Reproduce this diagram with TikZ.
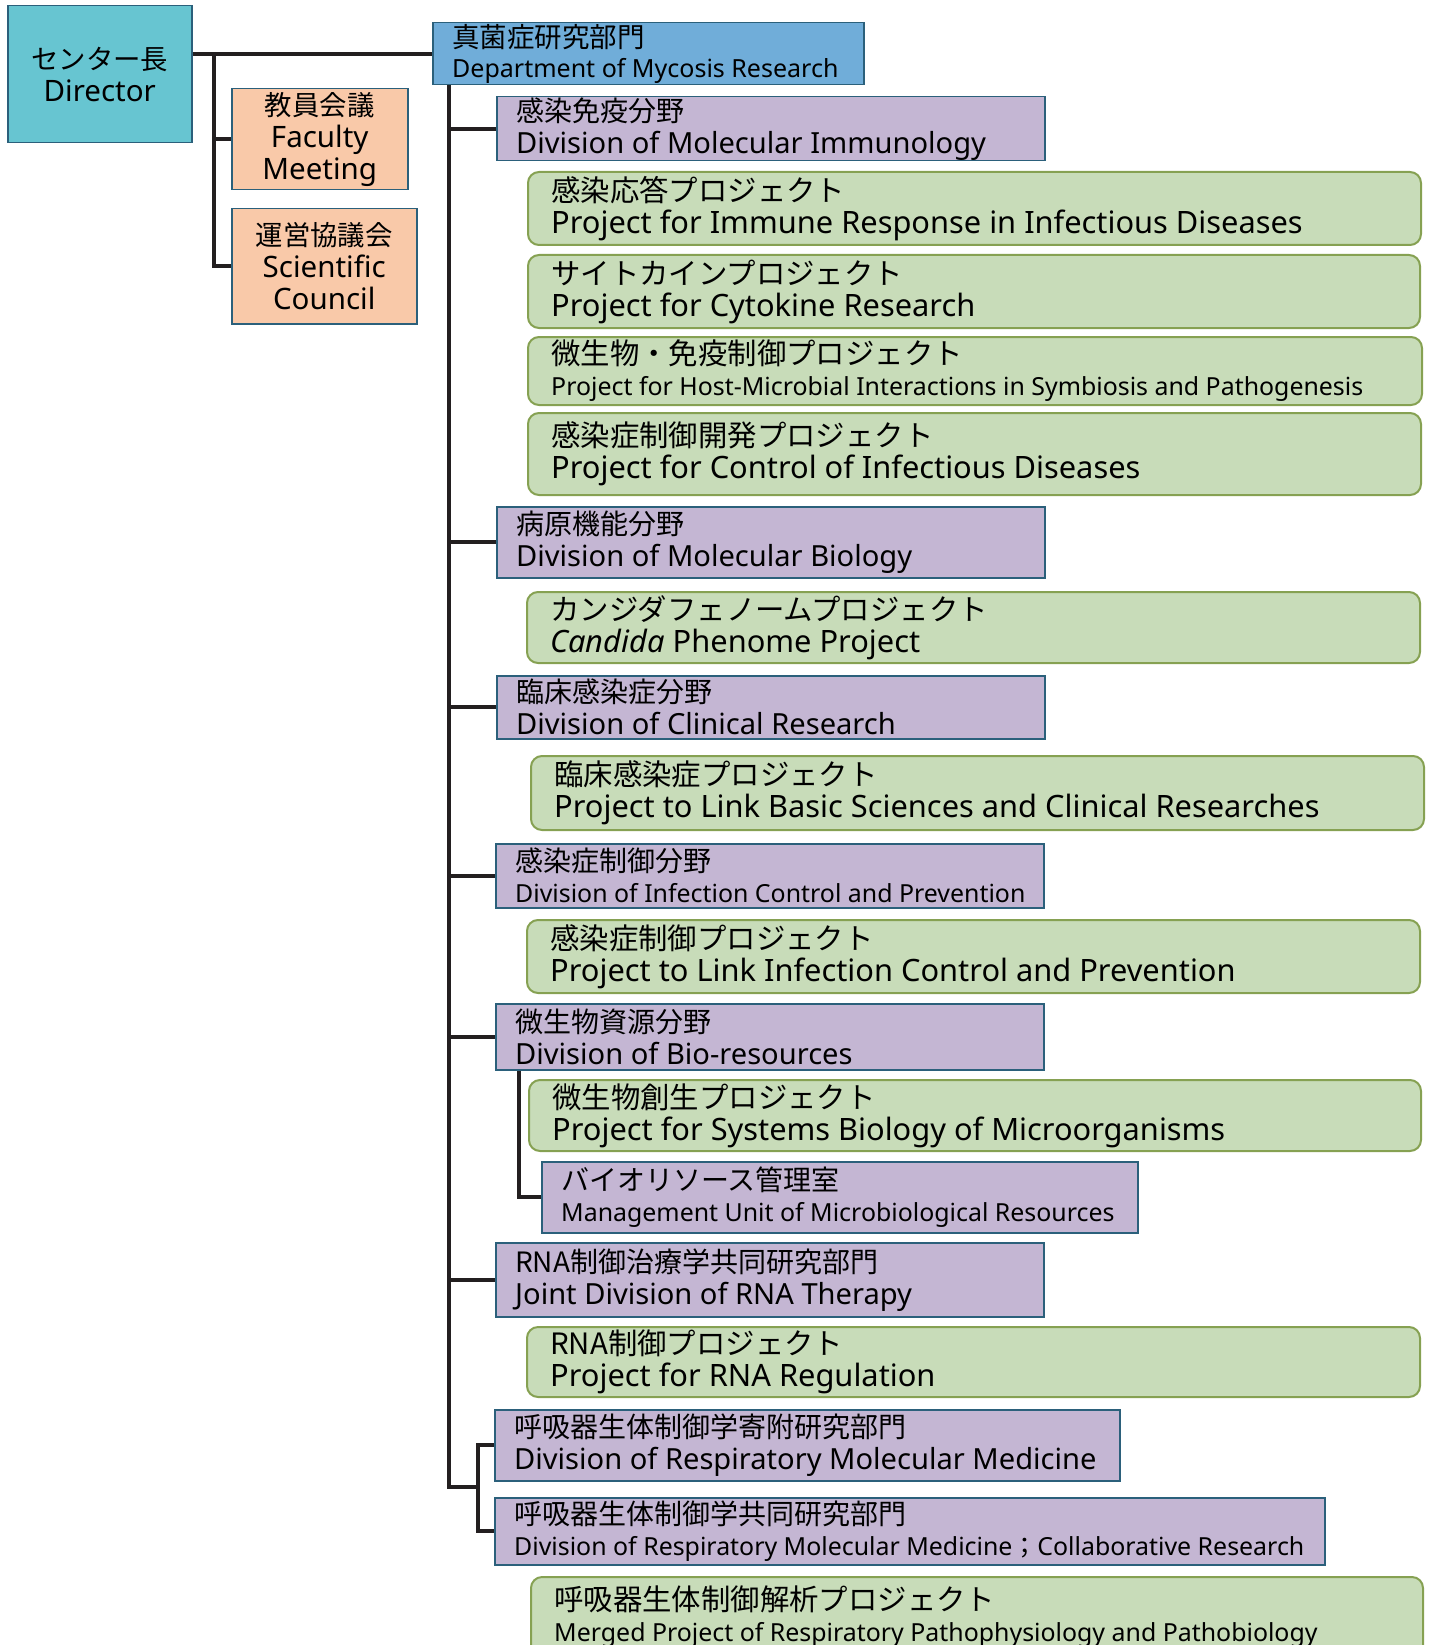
\documentclass[tikz,border=0pt]{standalone}
\usepackage{fontspec}
\setmainfont{Noto Sans}
\newfontfamily\jpf{Noto Sans CJK JP}
\def\jpsz{28}
\newcommand\J[1]{{\fontsize{\jpsz}{32}\selectfont\jpf #1}}
\newcommand\Es[1]{{\fontsize{24.9}{31}\selectfont #1}}
\newcommand\Em[1]{{\fontsize{25}{30}\selectfont #1}}
\definecolor{dirfill}{HTML}{67C5D1}
\definecolor{depfill}{HTML}{70ADD9}
\definecolor{facfill}{HTML}{F9C9A9}
\definecolor{divfill}{HTML}{C4B6D3}
\definecolor{prjfill}{HTML}{C8DCB9}
\definecolor{bluedraw}{HTML}{2B607B}
\definecolor{prjdraw}{HTML}{86A152}
\definecolor{linecol}{HTML}{231F20}
\tikzset{
  cbox/.style={anchor=north west, draw=bluedraw, line width=1.5pt, align=center, inner sep=0pt, font={\def\jpsz{27.4}\fontsize{29.5}{32}\selectfont}},
  dbox/.style={anchor=north west, draw=bluedraw, fill=divfill, line width=1.5pt, inner sep=0pt},
  depbox/.style={dbox, fill=depfill},
  pbox/.style={anchor=north west, draw=prjdraw, fill=prjfill, line width=2pt, rounded corners=11pt, inner sep=0pt},
  dtext/.style={anchor=west, xshift=20pt, align=left, inner sep=0pt, font={\def\jpsz{28}\fontsize{29.1}{32}\selectfont}},
  dstext/.style={dtext, font={\def\jpsz{28}\fontsize{29.1}{31}\selectfont}},
  deptext/.style={dtext, font={\def\jpsz{27.5}\fontsize{28}{30}\selectfont}},
  ptext/.style={anchor=west, xshift=24pt, align=left, inner sep=0pt, font={\def\jpsz{29.4}\fontsize{30.8}{32}\selectfont}},
  pstext/.style={ptext, font={\def\jpsz{29.4}\fontsize{30}{31}\selectfont}},
  conn/.style={draw=linecol, line width=4pt}
}
% #1 box style, #2 text style, #3 name, #4 x, #5 y, #6 width, #7 height, #8 text
\newcommand\orgbox[8]{%
  \node[#1, minimum width=#6pt, minimum height=#7pt] (#3) at (#4,#5) {};
  \node[#2] (#3t) at (#3.west) {#8};}
\begin{document}
\begin{tikzpicture}[x=1pt,y=-1pt]
\useasboundingbox (0,0) rectangle (1431,1645);
\clip (0,0) rectangle (1431,1645);
% left side
\node[cbox, fill=dirfill, minimum width=184pt, minimum height=137pt] (dir) at (7,5) {\J{センター長}\\Director};
\node[cbox, fill=facfill, minimum width=176pt, minimum height=101pt] (fac) at (231,88) {\J{教員会議}\\Faculty\\Meeting};
\node[cbox, fill=facfill, minimum width=185pt, minimum height=115pt] (sci) at (231,208) {\J{運営協議会}\\Scientific\\Council};
% department
\orgbox{depbox}{deptext}{dep}{432}{22}{431}{62}{\J{真菌症研究部門}\\\Em{Department of Mycosis Research}}
% divisions and projects
\orgbox{dbox}{dtext}{d1}{496}{96}{548}{64}{\J{感染免疫分野}\\Division of Molecular Immunology}
\orgbox{pbox}{ptext}{p1}{527}{171}{893}{73}{\J{感染応答プロジェクト}\\Project for Immune Response in Infectious Diseases}
\orgbox{pbox}{ptext}{p2}{527}{254}{892}{73}{\J{サイトカインプロジェクト}\\Project for Cytokine Research}
\orgbox{pbox}{pstext}{p3}{527}{336}{894}{68}{\J{微生物・免疫制御プロジェクト}\\\Es{Project for Host-Microbial Interactions in Symbiosis and Pathogenesis}}
\orgbox{pbox}{ptext}{p4}{527}{412}{893}{82}{\J{感染症制御開発プロジェクト}\\Project for Control of Infectious Diseases}
\orgbox{dbox}{dtext}{d2}{496}{506}{548}{71}{\J{病原機能分野}\\Division of Molecular Biology}
\orgbox{pbox}{ptext}{p5}{526}{591}{893}{71}{\J{カンジダフェノームプロジェクト}\\\textit{Candida} Phenome Project}
\orgbox{dbox}{dtext}{d3}{496}{675}{548}{63}{\J{臨床感染症分野}\\Division of Clinical Research}
\orgbox{pbox}{ptext}{p6}{530}{755}{893}{74}{\J{臨床感染症プロジェクト}\\Project to Link Basic Sciences and Clinical Researches}
\orgbox{dbox}{dstext}{d4}{495}{843}{548}{64}{\J{感染症制御分野}\\\Es{Division of Infection Control and Prevention}}
\orgbox{pbox}{ptext}{p7}{526}{919}{893}{73}{\J{感染症制御プロジェクト}\\Project to Link Infection Control and Prevention}
\orgbox{dbox}{dtext}{d5}{495}{1003}{548}{66}{\J{微生物資源分野}\\Division of Bio-resources}
\orgbox{pbox}{ptext}{p8}{528}{1079}{892}{71}{\J{微生物創生プロジェクト}\\Project for Systems Biology of Microorganisms}
\orgbox{dbox}{dstext}{mu}{541}{1161}{596}{71}{\J{バイオリソース管理室}\\\Es{Management Unit of Microbiological Resources}}
\orgbox{dbox}{dtext}{d6}{495}{1242}{548}{74}{\J{RNA制御治療学共同研究部門}\\Joint Division of RNA Therapy}
\orgbox{pbox}{ptext}{p9}{526}{1326}{893}{70}{\J{RNA制御プロジェクト}\\Project for RNA Regulation}
\orgbox{dbox}{dtext}{r1}{494}{1409}{625}{71}{\J{呼吸器生体制御学寄附研究部門}\\Division of Respiratory Molecular Medicine}
\orgbox{dbox}{dstext}{r2}{494}{1497}{830}{67}{\J{呼吸器生体制御学共同研究部門}\\\Es{Division of Respiratory Molecular Medicine{\jpf ；}Collaborative Research}}
\orgbox{pbox}{pstext}{p10}{530}{1576}{892}{79}{\J{呼吸器生体制御解析プロジェクト}\\\Es{Merged Project of Respiratory Pathophysiology and Pathobiology}}
% connectors
\coordinate (j1) at (214,53);
\coordinate (tx) at (449,0);
\coordinate (bx) at (519,0);
\coordinate (tj) at (478,1487);
\draw[conn] (dir.east |- dep.west) -- (dep.west);
\draw[conn] (j1) |- (fac.west);
\draw[conn] (j1) |- (sci.west);
\draw[conn] (dep.south -| tx) |- (tj);
\foreach \n in {d1,d2,d3,d4,d5,d6}{\draw[conn] (dep.south -| tx) |- (\n.west);}
\draw[conn] (tj) |- (r1.west);
\draw[conn] (tj) |- (r2.west);
\draw[conn] (d5.south -| bx) |- (mu.west);
\end{tikzpicture}
\end{document}
